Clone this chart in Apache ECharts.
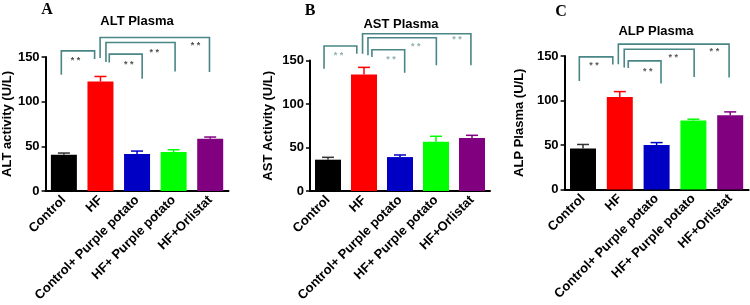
<!DOCTYPE html>
<html lang="en">
<head>
    <meta charset="UTF-8">
    <title>ALT / AST / ALP Plasma</title>
    <script src="https://cdn.jsdelivr.net/npm/echarts@6/dist/echarts.min.js"></script>
    <style>
        html, body { margin: 0; padding: 0; background: #fff; }
        #chart { width: 750px; height: 305px; }
    </style>
</head>
<body>
<div id="chart"></div>
<script>
    // groups
    const categories = ['Control', 'HF', 'Control+ Purple potato', 'HF+ Purple potato', 'HF+Orlistat'];
    const barColors = ['#000000', '#ff0000', '#0000c4', '#00ff00', '#800080'];
    const yTicks = [0, 50, 100, 150];

    // mean and upper SEM
    const altMean = [40.6, 122.6, 41.4, 43.6, 58.5];
    const altErr = [1.9, 5.6, 3.3, 2.6, 1.9];
    const astMean = [36, 134, 39, 56.7, 60.9];
    const astErr = [2.7, 8.1, 2.4, 6.2, 3.1];
    const alpMean = [46, 104, 50, 77.5, 83.5];
    const alpErr = [4.6, 6, 2.7, 1.5, 3.7];

    // brackets: [from, to, top, left leg end, right leg end, star x, star y] (category index / U/L)
    const altBrackets = [
        [-0.07, 0.84, 156.9, 130.2, 147.7, 0.32, 145.7],
        [1.24, 2.14, 153.2, 143.8, 125.6, 1.77, 141.3],
        [1.15, 3.04, 166.2, 144.3, 133.8, 2.47, 155],
        [0.99, 3.98, 171.8, 148.8, 133.1, 3.6, 163.3]
    ];
    const astBrackets = [
        [-0.11, 0.8, 166.7, 140.6, 157.8, 0.29, 156.3],
        [1.22, 2.13, 162.4, 154, 136, 1.75, 151],
        [1.11, 3.01, 176.2, 156, 144.5, 2.44, 165.5],
        [0.96, 3.97, 180.8, 157.8, 144.5, 3.58, 173.9]
    ];
    const alpBrackets = [
        [-0.1, 0.81, 149, 122, 140.4, 0.3, 139.7],
        [1.23, 2.12, 144.5, 136.6, 119, 1.76, 132.9],
        [1.12, 3.02, 157.6, 137, 126.5, 2.45, 148.7],
        [0.96, 3.97, 163.3, 140.8, 125.8, 3.57, 155.4]
    ];

    const panels = [
        {letter: 'A', title: 'ALT Plasma', yName: 'ALT activity (U/L)', mean: altMean, err: altErr, brackets: altBrackets,
            grid: {left: 43, top: 57, width: 185.5, height: 134}, nameGap: 26, starColor: '#4f4f4f',
            letterPos: [47, 10], titlePos: [137, 21]},
        {letter: 'B', title: 'AST Plasma', yName: 'AST Activity (U/L)', mean: astMean, err: astErr, brackets: astBrackets,
            grid: {left: 310, top: 60.5, width: 180, height: 130.5}, nameGap: 35, starColor: '#8fb1b1',
            letterPos: [310, 10.5], titlePos: [401, 24]},
        {letter: 'C', title: 'ALP Plasma', yName: 'ALP Plasma (U/L)', mean: alpMean, err: alpErr, brackets: alpBrackets,
            grid: {left: 564.6, top: 56, width: 184, height: 133.5}, nameGap: 39, starColor: '#5a5a5a',
            letterPos: [561, 12], titlePos: [656, 31]}
    ];

    const FONT = '"Liberation Sans", Arial, sans-serif';
    const bracketColor = '#4a8686';

    let chart = echarts.init(document.getElementById('chart'), null, {renderer: 'canvas'});

    // x position of a fractional category index, from the axis itself
    function catX(api, f, v) {
        let a = api.coord([0, v]), b = api.coord([1, v]);
        return a[0] + f * (b[0] - a[0]);
    }

    let grids = [], xAxes = [], yAxes = [], series = [], graphics = [];

    panels.forEach(function (p, i) {
        grids.push(Object.assign({containLabel: false}, p.grid));
        xAxes.push({
            type: 'category', gridIndex: i, data: categories,
            axisLine: {lineStyle: {color: '#000', width: 2}},
            axisTick: {alignWithLabel: true, length: 4, lineStyle: {color: '#000', width: 1.5}},
            axisLabel: {rotate: 45, interval: 0, margin: 7, color: '#000', fontFamily: FONT, fontWeight: 'bold', fontSize: 13}
        });
        yAxes.push({
            type: 'value', gridIndex: i, min: 0, max: 150, interval: 50,
            name: p.yName, nameLocation: 'middle', nameGap: p.nameGap,
            nameTextStyle: {color: '#000', fontFamily: FONT, fontWeight: 'bold', fontSize: 13},
            axisLine: {show: true, lineStyle: {color: '#000', width: 2}},
            axisTick: {show: true, length: 4, lineStyle: {color: '#000', width: 1.5}},
            axisLabel: {color: '#000', fontFamily: FONT, fontWeight: 'bold', fontSize: 13, margin: 6,
                formatter: function (v) { return yTicks.indexOf(v) >= 0 ? String(v) : ''; }},
            splitLine: {show: false}
        });

        series.push({
            type: 'bar', xAxisIndex: i, yAxisIndex: i, barWidth: 26, silent: true,
            data: p.mean.map(function (v, k) { return {value: v, itemStyle: {color: barColors[k]}}; })
        });

        // upper error bars
        series.push({
            type: 'custom', xAxisIndex: i, yAxisIndex: i, silent: true, z: 3,
            data: p.mean.map(function (v, k) { return [k, v, p.err[k]]; }),
            renderItem: function (params, api) {
                let k = api.value(0), m = api.value(1), e = api.value(2);
                let lo = api.coord([k, m]), hi = api.coord([k, m + e]);
                let style = {stroke: barColors[k] === '#000000' ? '#333' : barColors[k], lineWidth: 1.5};
                return {
                    type: 'group', children: [
                        {type: 'line', shape: {x1: lo[0], y1: lo[1], x2: hi[0], y2: hi[1]}, style: style},
                        {type: 'line', shape: {x1: hi[0] - 6, y1: hi[1], x2: hi[0] + 6, y2: hi[1]}, style: style}
                    ]
                };
            }
        });

        // significance brackets
        series.push({
            type: 'custom', xAxisIndex: i, yAxisIndex: i, silent: true, z: 4, clip: false,
            data: p.brackets.map(function (b) { return [0, b[2]]; }),
            renderItem: function (params, api) {
                let b = p.brackets[params.dataIndex];
                let x1 = catX(api, b[0], 0), x2 = catX(api, b[1], 0);
                let yTop = api.coord([0, b[2]])[1];
                let yL = api.coord([0, b[3]])[1], yR = api.coord([0, b[4]])[1];
                let s = api.coord([0, b[6]])[1];
                return {
                    type: 'group', children: [
                        {type: 'polyline', shape: {points: [[x1, yL], [x1, yTop], [x2, yTop], [x2, yR]]},
                            style: {stroke: bracketColor, lineWidth: 1.6, fill: null}},
                        {type: 'text', x: catX(api, b[5], 0), y: s,
                            style: {text: '* *', fill: p.starColor, font: 'bold 9px ' + FONT, align: 'center', verticalAlign: 'middle'}}
                    ]
                };
            }
        });

        graphics.push({
            type: 'text', x: p.letterPos[0], y: p.letterPos[1],
            style: {text: p.letter, font: 'bold 16px "Liberation Serif", "Times New Roman", serif', fill: '#000',
                align: 'center', verticalAlign: 'middle'}
        });
        graphics.push({
            type: 'text', x: p.titlePos[0], y: p.titlePos[1],
            style: {text: p.title, font: 'bold 13px ' + FONT, fill: '#000', align: 'center', verticalAlign: 'middle'}
        });
    });

    let option = {
        animation: false,
        backgroundColor: '#fff',
        grid: grids,
        xAxis: xAxes,
        yAxis: yAxes,
        series: series,
        graphic: graphics
    };
    chart.setOption(option);
</script>
</body>
</html>
